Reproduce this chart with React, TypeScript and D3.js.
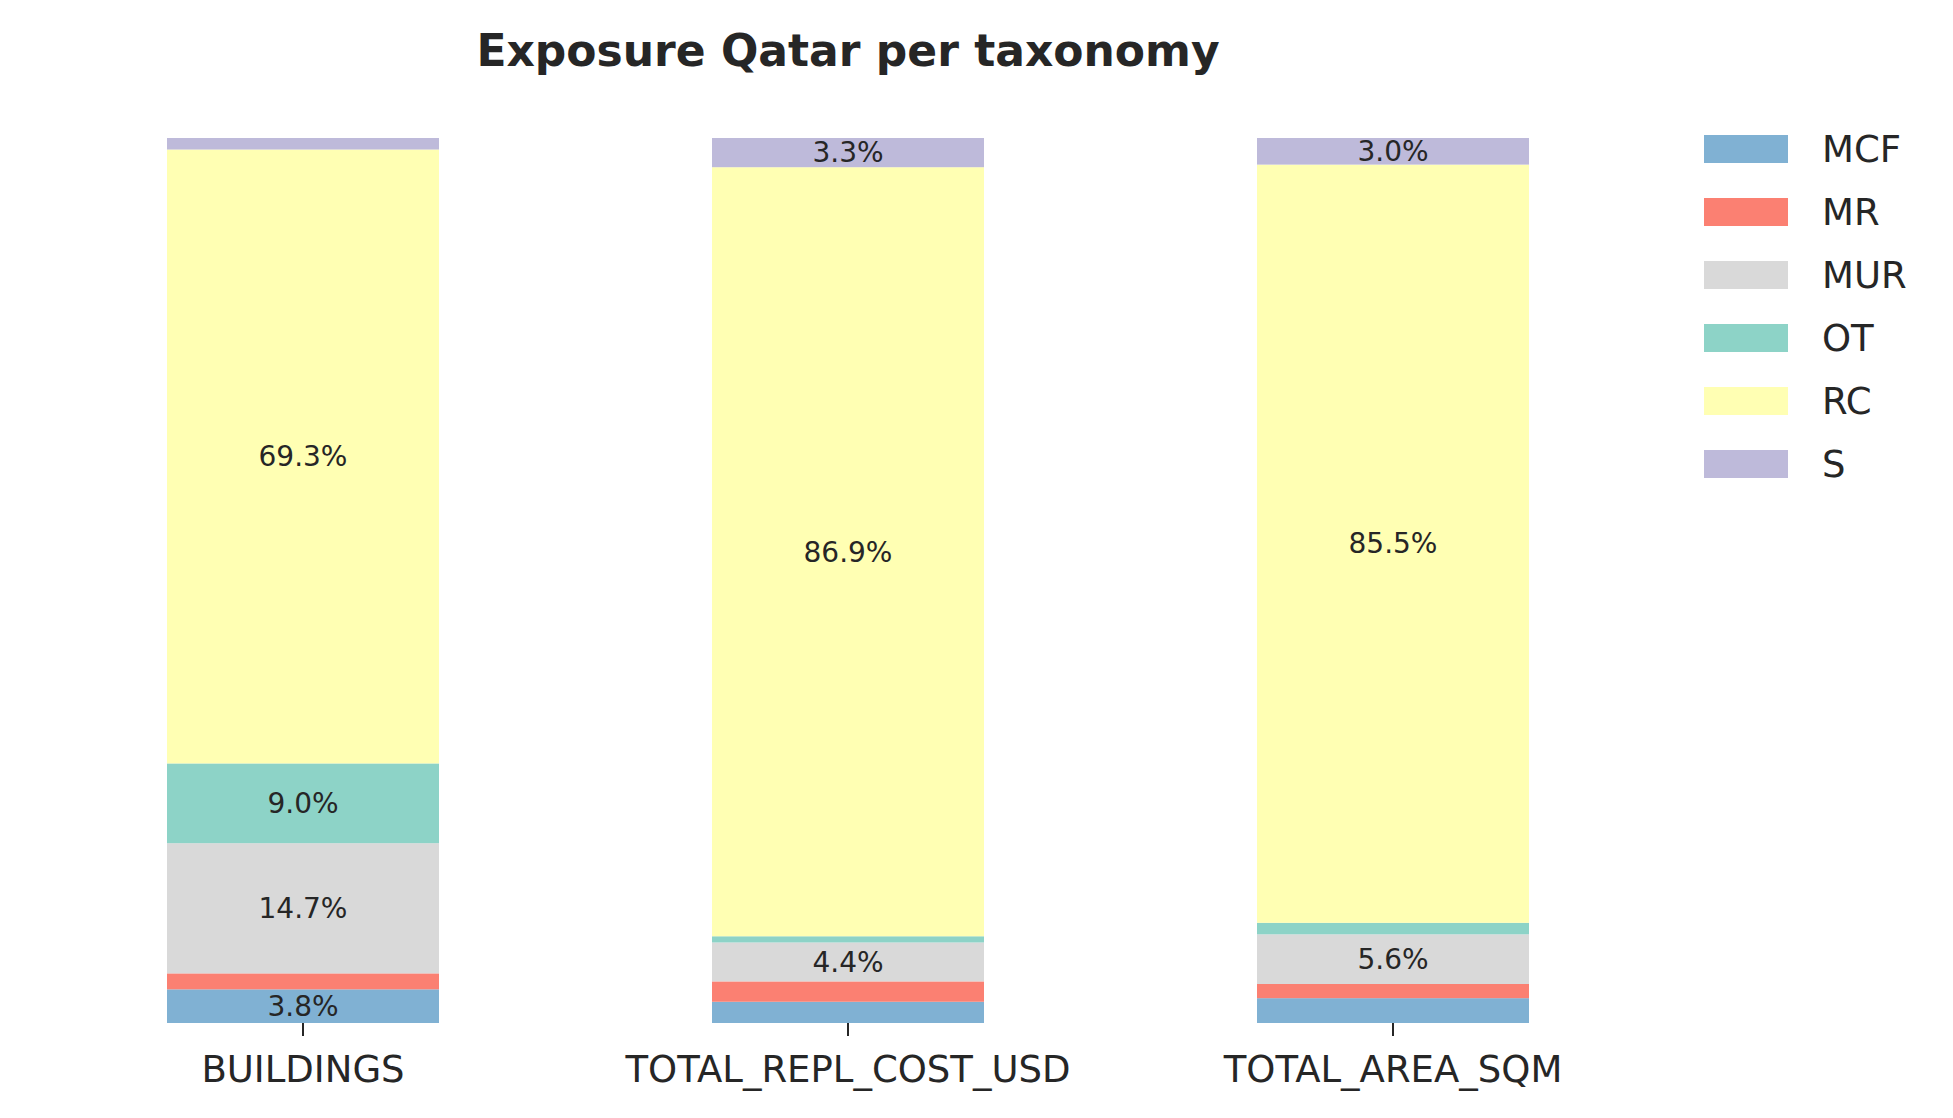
import React from "react";
import * as d3 from "d3";

const categories = ["BUILDINGS", "TOTAL_REPL_COST_USD", "TOTAL_AREA_SQM"];
const classes = ["MCF", "MR", "MUR", "OT", "RC", "S"];
const colors = ["#80b1d3", "#fb8072", "#d9d9d9", "#8dd3c7", "#ffffb3", "#bebada"];
const MCF = [3.8, 2.4, 2.8];
const MR = [1.8, 2.3, 1.6];
const MUR = [14.7, 4.4, 5.6];
const OT = [9.0, 0.7, 1.3];
const RC = [69.3, 86.9, 85.5];
const S = [1.3, 3.3, 3.0];
const series = [MCF, MR, MUR, OT, RC, S];

export default function App() {
  const W = 1953, H = 1118;
  const x = d3.scaleBand().domain(categories).range([112, 1585]).paddingInner(1).paddingOuter(0);
  const centers = [303, 848, 1393];
  const bw = 272;
  const y = d3.scaleLinear().domain([0, 100]).range([1023, 138]);
  const font = "DejaVu Sans, sans-serif";
  const rows = categories.map((c, i) => {
    let acc = 0;
    const total = series.reduce((s, a) => s + a[i], 0);
    return series.map((arr, k) => {
      const v = (arr[i] / total) * 100;
      const r = { k, y0: acc, y1: acc + v, v: arr[i] };
      acc += v;
      return r;
    });
  });
  void x;
  return (
    <svg width={W} height={H} style={{ position: "absolute", left: 0, top: 0, background: "#fff" }}>
      <text x={848} y={66} textAnchor="middle" fontFamily={font} fontWeight="bold" fontSize={44} fill="#262626">
        Exposure Qatar per taxonomy
      </text>
      {rows.map((segs, i) => (
        <g key={i}>
          {segs.map((s) => (
            <rect key={s.k} x={centers[i] - bw / 2} y={y(s.y1)} width={bw} height={y(s.y0) - y(s.y1)} fill={colors[s.k]} />
          ))}
          {segs.filter((s) => s.v >= 3).map((s) => (
            <text key={"t" + s.k} x={centers[i]} y={(y(s.y0) + y(s.y1)) / 2} dy="0.35em" textAnchor="middle"
              fontFamily={font} fontSize={28} fill="#262626">{s.v.toFixed(1)}%</text>
          ))}
          <line x1={centers[i]} x2={centers[i]} y1={1023} y2={1036} stroke="#262626" strokeWidth={2} />
          <text x={centers[i]} y={1082} textAnchor="middle" fontFamily={font} fontSize={37} fill="#262626">{categories[i]}</text>
        </g>
      ))}
      {classes.map((c, k) => (
        <g key={c} transform={`translate(0,${149 + k * 63})`}>
          <rect x={1704} y={-14} width={84} height={28} fill={colors[k]} />
          <text x={1822} y={0} dy="0.35em" fontFamily={font} fontSize={37} fill="#262626">{c}</text>
        </g>
      ))}
    </svg>
  );
}
